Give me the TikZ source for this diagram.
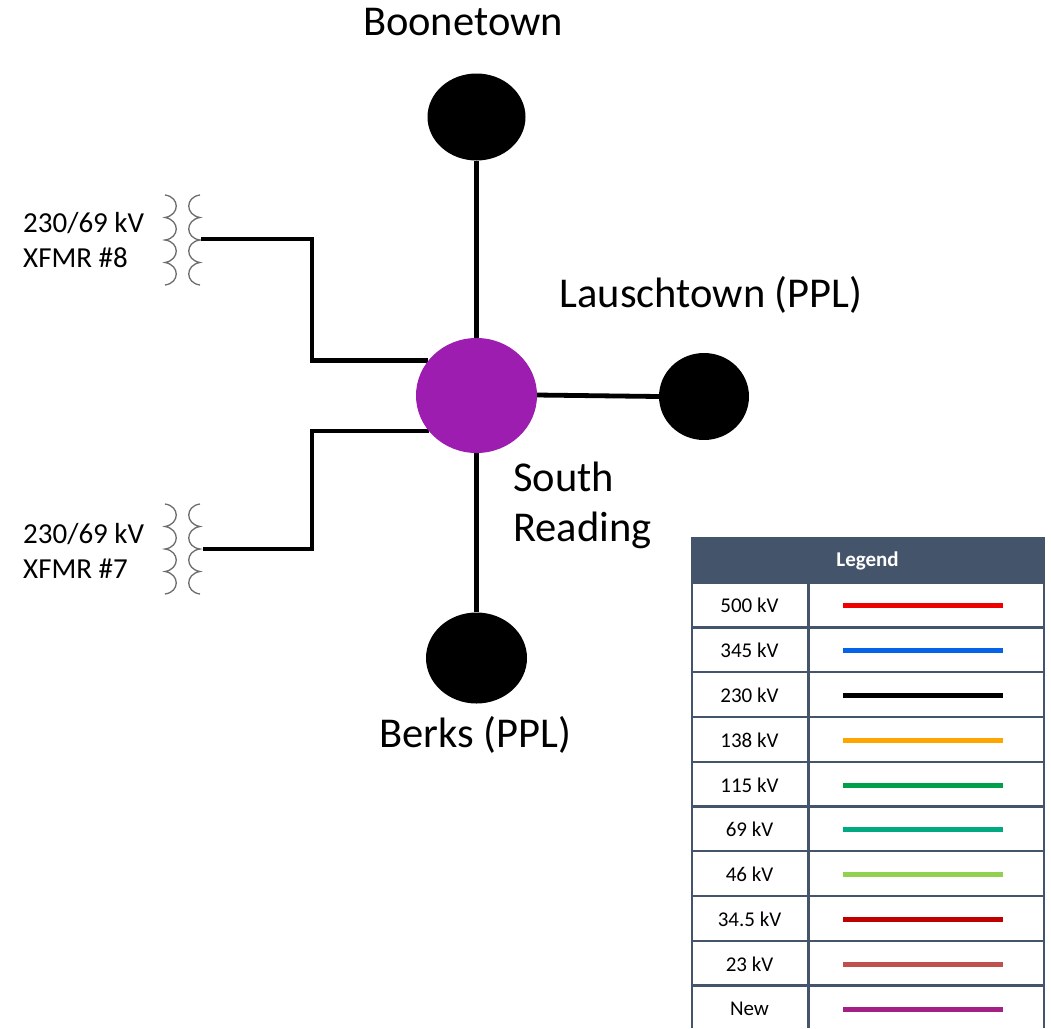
\documentclass[tikz,border=0pt]{standalone}
\usepackage{fontspec}
\setmainfont{Carlito}
\usetikzlibrary{shapes.geometric}
\definecolor{slate}{HTML}{44546A}
\definecolor{hub}{HTML}{9C1DB0}
\tikzset{
  x=1pt,y=-1pt,
  bus/.style={ellipse,fill=black,inner sep=0pt,minimum width=#1},
  wire/.style={line width=4.8pt,black,line join=miter},
  biglabel/.style={font=\fontsize{42.5}{44}\selectfont,inner sep=0pt,align=left},
  xfmrlabel/.style={font=\fontsize{29}{35}\selectfont,inner sep=0pt,align=left},
  coil/.style={line width=1.3pt,gray!85!black},
  rowlabel/.style={font=\fontsize{21}{23}\selectfont,inner sep=0pt},
  sample/.style={line width=5pt},
  grid/.style={line width=2.2pt,slate},
}
\newcommand{\leftcoil}[2]{%
  \draw[coil] (#1,#2) .. controls (#1+15,#2+2) and (#1+15,#2+20) .. (#1,#2+22.5)
    .. controls (#1+15,#2+25) and (#1+15,#2+43) .. (#1,#2+45)
    .. controls (#1+15,#2+47) and (#1+15,#2+65) .. (#1,#2+67.5)
    .. controls (#1+15,#2+70) and (#1+15,#2+88) .. (#1,#2+90);}
\newcommand{\rightcoil}[2]{%
  \draw[coil] (#1,#2) .. controls (#1-15,#2+2) and (#1-15,#2+20) .. (#1,#2+22.5)
    .. controls (#1-15,#2+25) and (#1-15,#2+43) .. (#1,#2+45)
    .. controls (#1-15,#2+47) and (#1-15,#2+65) .. (#1,#2+67.5)
    .. controls (#1-15,#2+70) and (#1-15,#2+88) .. (#1,#2+90);}
\newcommand{\legendrow}[4]{%
  \node[rowlabel] (lab#4) at (749.5,#2) {#1};
  \coordinate (sa#4) at (843,#2);
  \coordinate (sb#4) at (1003,#2);
  \definecolor{tmpc}{HTML}{#3}
  \draw[sample,tmpc] (sa#4) -- (sb#4);}
\begin{document}
\begin{tikzpicture}
\useasboundingbox (0,0) rectangle (1051,1028);
% transformers
\leftcoil{165}{195}
\rightcoil{200}{195}
\leftcoil{165}{504}
\rightcoil{200}{504}
\coordinate (x8) at (201,239);
\coordinate (x7) at (203,549);
% buses
\node[bus=98pt,minimum height=87pt] (boone) at (476.5,117) {};
\node[bus=90pt,minimum height=87pt] (lausch) at (704,396.5) {};
\node[bus=101pt,minimum height=91pt] (berks) at (476.5,658) {};
\coordinate (j8) at (312,239);
\coordinate (j8b) at (312,360.5);
\coordinate (j7) at (312,431);
\coordinate (j7b) at (312,549);
\coordinate (h8) at (428,360.5);
\coordinate (h7) at (429,431);
\coordinate (hc) at (476.5,396);
\coordinate (he) at (536,395);
% wires
\draw[wire] (boone) -- (hc);
\draw[wire] (berks) -- (hc);
\draw[wire] (lausch.west) -- (he);
\draw[wire] (x8) -- (j8) -- (j8b) -- (h8);
\draw[wire] (x7) -- (j7b) -- (j7) -- (h7);
\node[ellipse,fill=hub,inner sep=0pt,minimum width=121pt,minimum height=115pt] (south) at (476.5,395.5) {};
% labels
\node[biglabel,anchor=center] (tb) at (463,22.5) {Boonetown};
\node[biglabel,anchor=center] (tl) at (711,294.5) {Lauschtown (PPL)};
\node[biglabel,anchor=center] (tk) at (475,734.5) {Berks (PPL)};
\node[biglabel,anchor=west,font=\fontsize{42.5}{50.5}\selectfont] (ts) at (513,505.5) {South\\Reading};
\node[xfmrlabel,anchor=west] (t8) at (23,240) {230/69 kV\\XFMR \#8};
\node[xfmrlabel,anchor=west] (t7) at (23,551) {230/69 kV\\XFMR \#7};
% legend
\fill[slate] (691,537) rectangle (1045,584);
\node[font=\bfseries\fontsize{21}{23}\selectfont,text=white,inner sep=0pt] (lg) at (867.5,561) {Legend};
\draw[grid] (692,583) -- (692,1028) (808.5,583) -- (808.5,1028) (1044,583) -- (1044,1028);
\foreach \yy in {627.5,672.3,717,761.7,806.5,851.2,896,940.7,985.4}
  \draw[grid] (692,\yy) -- (1044,\yy);
\legendrow{500 kV}{605}{EE0000}{a}
\legendrow{345 kV}{650}{0563E8}{b}
\legendrow{230 kV}{695}{000000}{c}
\legendrow{138 kV}{740}{FFA500}{d}
\legendrow{115 kV}{785}{00A04A}{e}
\legendrow{69 kV}{829.5}{00A97F}{f}
\legendrow{46 kV}{874.5}{92D050}{g}
\legendrow{34.5 kV}{919.5}{C00000}{h}
\legendrow{23 kV}{964}{C0504D}{i}
\legendrow{New}{1009}{A32085}{j}
\end{tikzpicture}
\end{document}
